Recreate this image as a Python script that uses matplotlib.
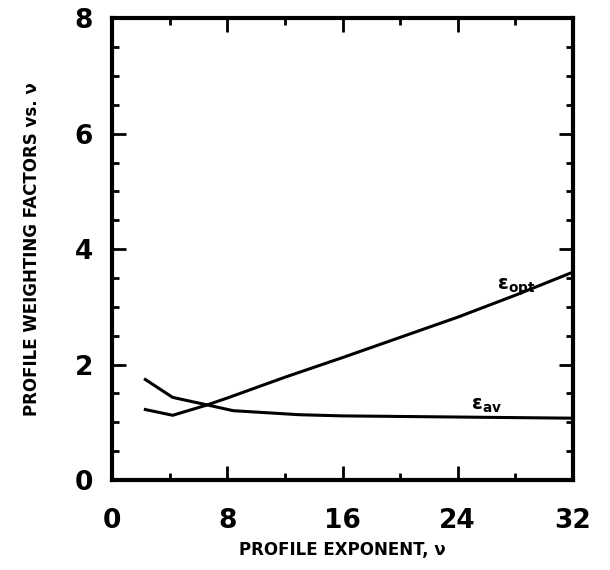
import numpy as np
import matplotlib
matplotlib.use('Agg')
import matplotlib.pyplot as plt
from matplotlib.ticker import MultipleLocator

# profile exponent values
nu_opt = [2.3, 4.2, 6.6, 8, 12, 16, 20, 24, 28, 32]
eps_opt = [1.22, 1.12, 1.30, 1.42, 1.78, 2.12, 2.47, 2.82, 3.20, 3.60]

nu_av = [2.3, 4.2, 6.6, 8.4, 13, 16, 20, 24, 28, 32]
eps_av = [1.74, 1.43, 1.30, 1.20, 1.13, 1.11, 1.10, 1.09, 1.08, 1.07]

fig = plt.figure(figsize=(6.1, 5.7), dpi=100)
ax = fig.add_axes([0.184, 0.158, 0.755, 0.81])

ax.plot(nu_opt, eps_opt, color='k', linewidth=2.2)
ax.plot(nu_av, eps_av, color='k', linewidth=2.2)

ax.text(26.7, 3.3, r'$\mathbf{\epsilon_{opt}}$', fontsize=14, fontweight='bold')
ax.text(24.9, 1.22, r'$\mathbf{\epsilon_{av}}$', fontsize=14, fontweight='bold')

ax.set_xlim(0, 32)
ax.set_ylim(0, 8)
ax.xaxis.set_major_locator(MultipleLocator(8))
ax.xaxis.set_minor_locator(MultipleLocator(4))
ax.yaxis.set_major_locator(MultipleLocator(2))
ax.yaxis.set_minor_locator(MultipleLocator(0.5))
ax.tick_params(which='both', direction='in', top=True, right=True, width=2)
ax.tick_params(which='major', length=10, labelsize=19)
ax.tick_params(axis='x', which='major', pad=20)
ax.tick_params(axis='y', which='major', pad=14)
ax.tick_params(which='minor', length=5)
for lab in ax.get_xticklabels() + ax.get_yticklabels():
    lab.set_fontweight('bold')
for s in ax.spines.values():
    s.set_linewidth(3)

ax.set_xlabel('PROFILE EXPONENT, \u03bd', fontsize=12, fontweight='bold', labelpad=5)
ax.set_ylabel('PROFILE WEIGHTING FACTORS vs. \u03bd', fontsize=12, fontweight='bold', labelpad=24)

fig.savefig('out.png', dpi=100)
